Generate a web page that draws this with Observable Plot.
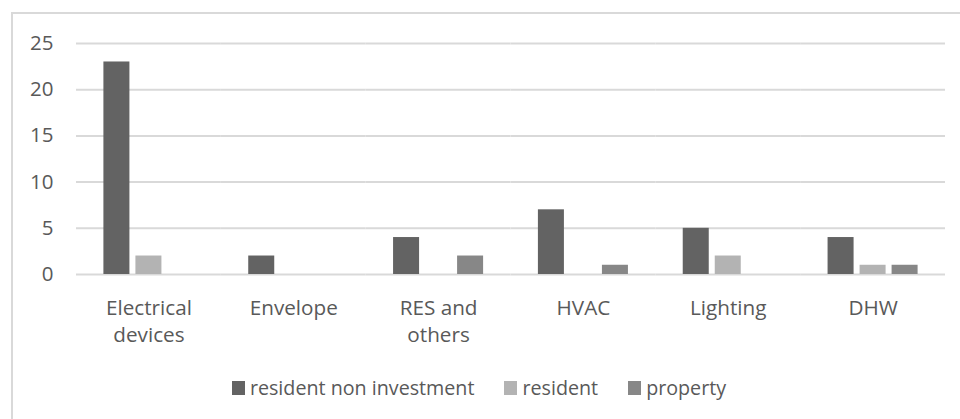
<!DOCTYPE html>
<html>
<head>
<meta charset="utf-8">
<script src="https://cdn.jsdelivr.net/npm/d3@7"></script>
<script src="https://cdn.jsdelivr.net/npm/@observablehq/plot@0.6"></script>
<style>
  html, body { margin: 0; padding: 0; background: #fff; overflow: hidden; }
  #wrap { position: relative; width: 960px; height: 419px; overflow: hidden; font-family: "Open Sans", sans-serif; }
  #frame { position: absolute; left: 11px; top: 12px; width: 960px; height: 420px; border: 2px solid #d9d9d9; box-sizing: border-box; }
  #chart { position: absolute; left: 0; top: 0; }
  #legend { position: absolute; left: 0; top: 376px; width: 958px; display: flex; justify-content: center; align-items: center; gap: 30px; font-size: 19.7px; color: #595959; line-height: 24px; }
  .item { display: flex; align-items: center; gap: 5px; }
  .sw { width: 13px; height: 14px; display: inline-block; }
</style>
</head>
<body>
<div id="wrap">
  <div id="frame"></div>
  <div id="chart"></div>
  <div id="legend"></div>
</div>
<script>
const categories = ["Electrical devices", "Envelope", "RES and others", "HVAC", "Lighting", "DHW"];
const categoryLabels = ["Electrical\ndevices", "Envelope", "RES and\nothers", "HVAC", "Lighting", "DHW"];
const series = ["resident non investment", "resident", "property"];
const residentNonInvestment = [23, 2, 4, 7, 5, 4];
const resident = [2, 0, 0, 0, 2, 1];
const property = [0, 0, 2, 1, 0, 1];
const yTicks = [0, 5, 10, 15, 20, 25];
const colors = ["#636363", "#b3b3b3", "#878787"];

const seriesValues = [residentNonInvestment, resident, property];
const data = categories.flatMap((c, i) =>
  series.map((s, j) => ({category: c, series: s, value: seriesValues[j][i]}))
);
const labelOf = new Map(categories.map((c, i) => [c, categoryLabels[i]]));

const chart = Plot.plot({
  width: 960,
  height: 360,
  marginLeft: 76,
  marginRight: 15,
  marginTop: 43,
  marginBottom: 86,
  style: {fontFamily: "'Open Sans', sans-serif", background: "transparent"},
  fx: {domain: categories, padding: 0, round: false, axis: null, label: null},
  x: {domain: series, paddingInner: 0.1875, paddingOuter: 0.856, round: false, axis: null, label: null},
  y: {domain: [0, 25], axis: null, label: null},
  color: {domain: series, range: colors},
  marks: [
    Plot.gridY(yTicks, {stroke: "#d9d9d9", strokeOpacity: 1, strokeWidth: 2}),
    Plot.barY(data, {fx: "category", x: "series", y: "value", fill: "series"}),
    Plot.axisY(yTicks, {tickSize: 0, tickPadding: 23, fontSize: 20.5, color: "#595959", label: null}),
    Plot.axisFx({anchor: "bottom", tickSize: 0, tickPadding: 21, fontSize: 20.7, lineHeight: 1.3, color: "#595959", label: null, tickFormat: d => labelOf.get(d)})
  ]
});
document.getElementById("chart").appendChild(chart);

const legend = document.getElementById("legend");
series.forEach((s, i) => {
  const item = document.createElement("div");
  item.className = "item";
  const sw = document.createElement("span");
  sw.className = "sw";
  sw.style.background = colors[i];
  const t = document.createElement("span");
  t.textContent = s;
  item.appendChild(sw);
  item.appendChild(t);
  legend.appendChild(item);
});
</script>
</body>
</html>
